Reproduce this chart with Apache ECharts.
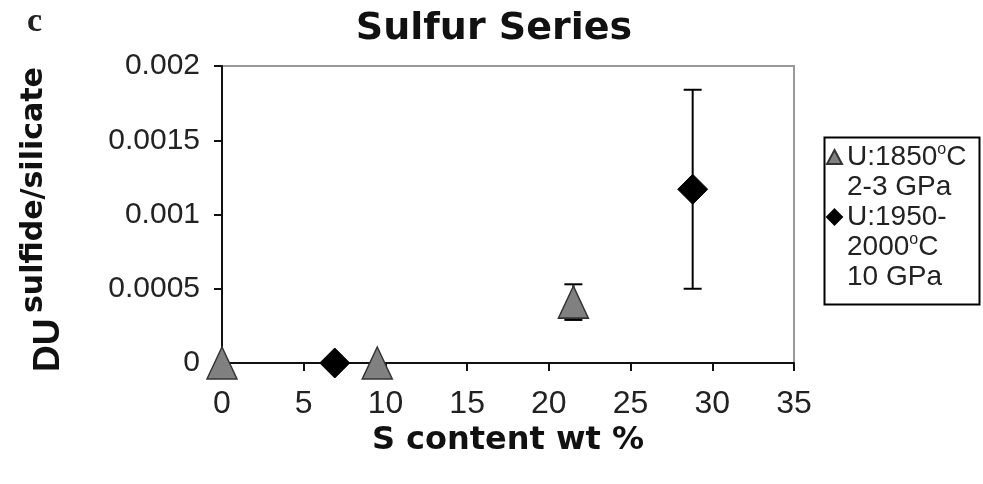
<!DOCTYPE html>
<html>
<head>
<meta charset="utf-8">
<script src="https://cdn.jsdelivr.net/npm/echarts@6/dist/echarts.min.js"></script>
<style>
html,body{margin:0;padding:0;background:#fff;}
#main{width:983px;height:484px;}
</style>
</head>
<body>
<div id="main"></div>
<script>
// ---- data ----
var xTicks = [0, 5, 10, 15, 20, 25, 30, 35];
var yTicks = [0, 0.0005, 0.001, 0.0015, 0.002];

var triX   = [0, 9.5, 21.5];
var triY   = [0, 0, 0.00041];
var triErr = [0, 0, 0.00012];

var diaX   = [6.9, 28.8];
var diaY   = [0, 0.00117];
var diaErr = [0, 0.00067];

var seriesNames = ['U:1850°C 2-3 GPa', 'U:1950-2000°C 10 GPa'];

// ---- build ----
function pts(xs, ys) { return xs.map(function (x, i) { return [x, ys[i]]; }); }
function errs(xs, ys, es) {
  var out = [];
  xs.forEach(function (x, i) { if (es[i] > 0) out.push([x, ys[i] - es[i], ys[i] + es[i]]); });
  return out;
}
function errRender(params, api) {
  var x = api.value(0), lo = api.value(1), hi = api.value(2);
  var pLo = api.coord([x, lo]), pHi = api.coord([x, hi]);
  var cap = 9;
  var st = { stroke: '#000', lineWidth: 2 };
  return {
    type: 'group',
    children: [
      { type: 'line', shape: { x1: pLo[0], y1: pLo[1], x2: pHi[0], y2: pHi[1] }, style: st },
      { type: 'line', shape: { x1: pHi[0] - cap, y1: pHi[1], x2: pHi[0] + cap, y2: pHi[1] }, style: st },
      { type: 'line', shape: { x1: pLo[0] - cap, y1: pLo[1], x2: pLo[0] + cap, y2: pLo[1] }, style: st }
    ]
  };
}

var FONT = 'Liberation Sans, Arial, sans-serif';
var BOLDW = 'DejaVu Sans, sans-serif';
var chart = echarts.init(document.getElementById('main'), null, { renderer: 'canvas' });

var legendText = {
  fontFamily: FONT, fontSize: 28, color: '#222', lineHeight: 30,
  rich: {
    t: { fontFamily: FONT, fontSize: 28, lineHeight: 30, color: '#222' },
    s: { fontFamily: FONT, fontSize: 16, lineHeight: 16, verticalAlign: 'top', color: '#222' }
  }
};

chart.setOption({
  animation: false,
  backgroundColor: '#fff',
  title: [{
    text: 'Sulfur Series',
    left: 489, top: 5, textAlign: 'center',
    textStyle: { fontFamily: BOLDW, fontWeight: 'bold', fontSize: 38, color: '#111' }
  }, {
    text: 'c', left: 22, top: 0,
    textStyle: { fontFamily: 'Liberation Serif, serif', fontWeight: 'bold', fontSize: 34, color: '#222' }
  }],
  grid: {
    left: 222, right: 189, top: 66, bottom: 121,
    show: true, borderColor: '#999', borderWidth: 2, backgroundColor: 'transparent'
  },
  legend: [{
    data: [seriesNames[0]],
    orient: 'vertical', left: 826, top: 112, padding: 0,
    itemWidth: 15, itemHeight: 14, itemGap: 0,
    textStyle: Object.assign({ padding: [30, 0, 0, 0] }, legendText),
    formatter: function () { return '{t|U:1850}{s|o}{t|C}\n{t|2-3 GPa}'; },
    selectedMode: false
  }, {
    data: [seriesNames[1]],
    orient: 'vertical', left: 826, top: 142, padding: 0,
    itemWidth: 15, itemHeight: 15, itemGap: 0,
    textStyle: Object.assign({ padding: [60, 0, 0, 0] }, legendText),
    formatter: function () { return '{t|U:1950-}\n{t|2000}{s|o}{t|C}\n{t|10 GPa}'; },
    selectedMode: false
  }],
  graphic: [{
    type: 'rect', left: 822, top: 135,
    shape: { width: 155, height: 167 },
    style: { fill: 'none', stroke: '#000', lineWidth: 2 }
  }, {
    type: 'text', x: 67, y: 372, rotation: Math.PI / 2,
    style: {
      text: 'DU', fontFamily: FONT, fontWeight: 'bold', fontSize: 37, fill: '#111',
      verticalAlign: 'bottom', align: 'left'
    }
  }, {
    type: 'text', x: 49, y: 313, rotation: Math.PI / 2,
    style: {
      text: 'sulfide/silicate', fontFamily: BOLDW, fontWeight: 'bold', fontSize: 30, fill: '#111',
      verticalAlign: 'bottom', align: 'left'
    }
  }],
  xAxis: {
    type: 'value', min: 0, max: 35, interval: 5,
    name: 'S content wt %', nameLocation: 'middle', nameGap: 52,
    nameTextStyle: { fontFamily: BOLDW, fontWeight: 'bold', fontSize: 32, color: '#111' },
    axisLine: { show: true, onZero: false, lineStyle: { color: '#111', width: 2 } },
    axisTick: { show: true, inside: false, length: 8, lineStyle: { color: '#111', width: 2 } },
    axisLabel: { fontFamily: FONT, fontSize: 32, color: '#222', margin: 25,
      formatter: function (v) { return xTicks.indexOf(v) >= 0 ? String(v) : ''; } },
    splitLine: { show: false }
  },
  yAxis: {
    type: 'value', min: 0, max: 0.002, interval: 0.0005,
    axisLine: { show: true, onZero: false, lineStyle: { color: '#111', width: 2 } },
    axisTick: { show: true, inside: false, length: 8, lineStyle: { color: '#111', width: 2 } },
    axisLabel: { fontFamily: FONT, fontSize: 30, color: '#222', margin: 22,
      formatter: function (v) {
        for (var i = 0; i < yTicks.length; i++) if (Math.abs(yTicks[i] - v) < 1e-9) return String(yTicks[i]);
        return '';
      } },
    splitLine: { show: false }
  },
  series: [{
    type: 'custom', name: 'err1', renderItem: errRender, data: errs(triX, triY, triErr), z: 1, clip: false, silent: true
  }, {
    type: 'custom', name: 'err2', renderItem: errRender, data: errs(diaX, diaY, diaErr), z: 1, clip: false, silent: true
  }, {
    type: 'scatter', name: seriesNames[0], data: pts(triX, triY),
    symbol: 'triangle', symbolSize: [30, 32], clip: false, z: 3,
    itemStyle: { color: '#808080', borderColor: '#333', borderWidth: 1.5, opacity: 1 }
  }, {
    type: 'scatter', name: seriesNames[1], data: pts(diaX, diaY),
    symbol: 'diamond', symbolSize: [30, 30], clip: false, z: 3,
    itemStyle: { color: '#000', borderColor: '#000', borderWidth: 1, opacity: 1 }
  }]
});
</script>
</body>
</html>
